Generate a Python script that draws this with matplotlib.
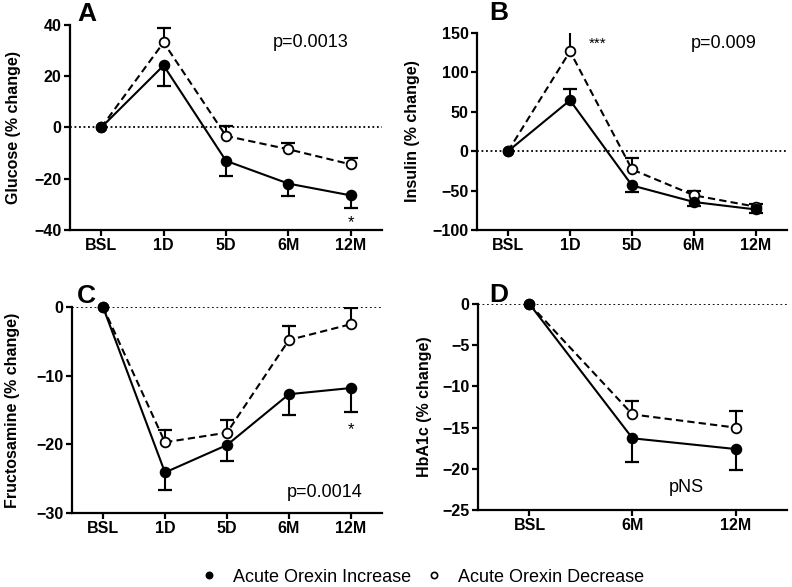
import numpy as np
import matplotlib
matplotlib.use("Agg")
import matplotlib.pyplot as plt
from matplotlib.lines import Line2D

plt.rcParams['font.family'] = ['Liberation Sans', 'DejaVu Sans']

# Data (signed error: + drawn upwards, - drawn downwards)
times5 = ["BSL", "1D", "5D", "6M", "12M"]
times3 = ["BSL", "6M", "12M"]

glu_inc = [0, 24.2, -13.0, -21.9, -26.5]
glu_inc_err = [0, -7.9, -5.9, -5.0, -5.0]
glu_dec = [0, 33.2, -3.3, -8.5, -14.4]
glu_dec_err = [0, 5.6, 3.7, 2.4, 2.3]

ins_inc = [0, 64.6, -43.5, -64.5, -74.0]
ins_inc_err = [0, 14.4, -8.5, -5.0, -4.5]
ins_dec = [0, 126.7, -23.2, -56.0, -70.5]
ins_dec_err = [0, 29.0, 14.8, 5.3, 3.0]

fru_inc = [0, -24.1, -20.1, -12.7, -11.8]
fru_inc_err = [0, -2.6, -2.3, -3.1, -3.5]
fru_dec = [0, -19.7, -18.3, -4.8, -2.5]
fru_dec_err = [0, 1.8, 1.9, 2.0, 2.4]

hba_inc = [0, -16.3, -17.6]
hba_inc_err = [0, -2.9, -2.6]
hba_dec = [0, -13.4, -15.0]
hba_dec_err = [0, 1.6, 2.0]

fig = plt.figure(figsize=(7.92, 5.87), dpi=100)


def panel(rect, cats, inc, inc_err, dec, dec_err, ylim, yticks, ylabel, labx):
    ax = fig.add_axes(rect)
    x = np.arange(len(cats))
    ax.axhline(0, color='black', ls=(0, (1, 1.5)), lw=1.3, zorder=1)
    for vals, errs, face, ls in [(dec, dec_err, 'white', (0, (3.5, 2))),
                                 (inc, inc_err, 'black', '-')]:
        ax.plot(x, vals, color='black', lw=1.5, ls=ls, zorder=2, clip_on=False)
        for xi, v, e in zip(x, vals, errs):
            if e != 0:
                ax.plot([xi, xi], [v, v + e], color='black', lw=1.5, zorder=2)
                ax.plot(xi, v + e, marker='_', ms=10, mew=1.6, color='black', zorder=2)
        ax.plot(x, vals, ls='none', marker='o', ms=7, mfc=face, mec='black',
                mew=1.3, zorder=3, clip_on=False)
    ax.set_xlim(-0.5, len(cats) - 0.5)
    ax.set_ylim(*ylim)
    ax.set_yticks(yticks)
    ax.set_xticks(x)
    ax.set_xticklabels(cats)
    for s in ['top', 'right']:
        ax.spines[s].set_visible(False)
    for s in ['left', 'bottom']:
        ax.spines[s].set_linewidth(1.6)
    ax.tick_params(width=1.6, length=4, labelsize=11.5, pad=2)
    for lab in ax.get_xticklabels() + ax.get_yticklabels():
        lab.set_fontweight('bold')
    ax.set_ylabel(ylabel, fontsize=11.5, fontweight='bold')
    ax.yaxis.set_label_coords(labx, 0.5)
    return ax


axA = panel([0.0884, 0.6082, 0.3939, 0.3492], times5, glu_inc, glu_inc_err,
            glu_dec, glu_dec_err, (-40, 40), [-40, -20, 0, 20, 40],
            "Glucose (% change)", -0.157)
axB = panel([0.6023, 0.6082, 0.3914, 0.3356], times5, ins_inc, ins_inc_err,
            ins_dec, ins_dec_err, (-100, 150), [-100, -50, 0, 50, 100, 150],
            "Insulin (% change)", -0.184)
axC = panel([0.0909, 0.1261, 0.3914, 0.3509], times5, fru_inc, fru_inc_err,
            fru_dec, fru_dec_err, (-30, 0), [-30, -20, -10, 0],
            "Fructosamine (% change)", -0.168)
axD = panel([0.6035, 0.1312, 0.3902, 0.3509], times3, hba_inc, hba_inc_err,
            hba_dec, hba_dec_err, (-25, 0), [-25, -20, -15, -10, -5, 0],
            "HbA1c (% change)", -0.149)

# p-values and significance marks
axA.text(0.772, 0.917, "p=0.0013", transform=axA.transAxes, fontsize=13,
         ha='center', va='center')
axB.text(0.797, 0.949, "p=0.009", transform=axB.transAxes, fontsize=13,
         ha='center', va='center')
axC.text(0.816, 0.097, "p=0.0014", transform=axC.transAxes, fontsize=13,
         ha='center', va='center')
axD.text(0.673, 0.107, "pNS", transform=axD.transAxes, fontsize=13,
         ha='center', va='center')
axA.text(4, -37, "*", fontsize=12, ha='center', va='center')
axB.text(1.45, 136, "***", fontsize=11, ha='center', va='center')
axC.text(4, -17.8, "*", fontsize=12, ha='center', va='center')

# panel letters
for lab, px, py in [("A", 87, 14), ("B", 499, 13), ("C", 86, 296), ("D", 499, 295)]:
    fig.text(px / 792, 1 - py / 587, lab, fontsize=19, fontweight='bold',
             ha='center', va='center')

handles = [Line2D([], [], ls='none', marker='o', ms=4.5, mfc='black', mec='black', mew=1.2),
           Line2D([], [], ls='none', marker='o', ms=4.5, mfc='white', mec='black', mew=1.2)]
fig.legend(handles, ["Acute Orexin Increase", "Acute Orexin Decrease"],
           loc='center', bbox_to_anchor=(0.533, 0.017), ncol=2, frameon=False,
           fontsize=13, handlelength=1.0, handletextpad=0.8, columnspacing=0.8)

fig.savefig("out.png", dpi=100)
